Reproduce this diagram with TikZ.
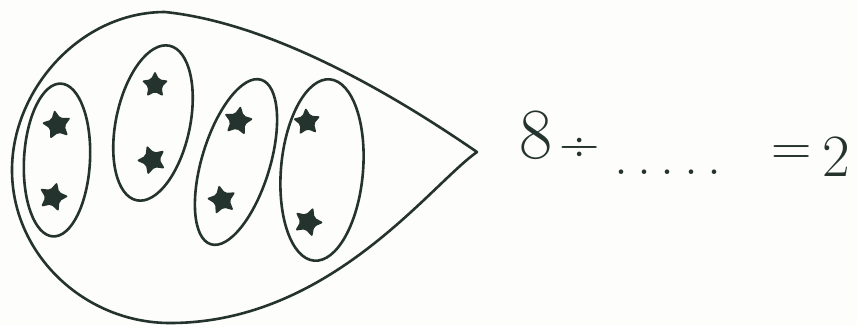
\documentclass[tikz,border=0pt]{standalone}
\usepackage{amsmath,amssymb}
\usepackage{xcolor}
\usepackage{tikz}
\usetikzlibrary{positioning,shapes.geometric}
\definecolor{ink}{HTML}{25332F}
\definecolor{paper}{HTML}{FDFDFB}

\begin{document}
\begin{tikzpicture}[x=1pt,y=-1pt,line cap=round,line join=round]
\tikzset{grp/.style={draw=ink,line width=2.6pt,ellipse,inner sep=0pt},st/.style={star,star points=5,star point ratio=2.0,fill=ink,inner sep=0pt,minimum size=31pt,rounded corners=2pt},num/.style={text=ink,inner sep=0pt}}
\useasboundingbox[fill=paper] (0,0) rectangle (857,325);
% the big drop
\coordinate (tip) at (477,152);
\draw[ink,line width=2.6pt] (tip) .. controls (430,120) and (290,25) .. (165,12)
  .. controls (80,12) and (12,90) .. (12,170)
  .. controls (12,255) and (85,323) .. (170,323)
  .. controls (330,323) and (430,185) .. (tip);
% the four groups
\node[grp,minimum width=66pt,minimum height=153pt,rotate=-3] (g1) at (57,160) {};
\node[grp,minimum width=74pt,minimum height=158pt,rotate=-12] (g2) at (153,123) {};
\node[grp,minimum width=68pt,minimum height=172pt,rotate=-17] (g3) at (236,162) {};
\node[grp,minimum width=82pt,minimum height=182pt,rotate=-5] (g4) at (322,170) {};
% two stars in each group
\node[st,rotate=10] (s1a) at (57,125) {};
\node[st,rotate=-15] (s1b) at (53,197) {};
\node[st,minimum size=28pt] (s2a) at (155,85) {};
\node[st,rotate=20] (s2b) at (152,160) {};
\node[st,rotate=-10] (s3a) at (238,121) {};
\node[st,rotate=12] (s3b) at (222,200) {};
\node[st,minimum size=29pt,rotate=5] (s4a) at (307,122) {};
\node[st,rotate=-20] (s4b) at (308,222) {};
% the sum
\node[num,font=\fontsize{72}{74}\selectfont] (eight) at (536,135) {8};
\node[num,font=\fontsize{56}{58}\selectfont] (div) at (580,150) {÷};
\node[num,font=\fontsize{56}{58}\selectfont,anchor=base west] (blank) at (614,174) {.\,.\,.\,.\,.};
\node[num,font=\fontsize{56}{58}\selectfont] (eq) at (792,156) {=};
\node[num,font=\fontsize{60}{62}\selectfont] (two) at (836,157) {2};
\end{tikzpicture}
\end{document}
